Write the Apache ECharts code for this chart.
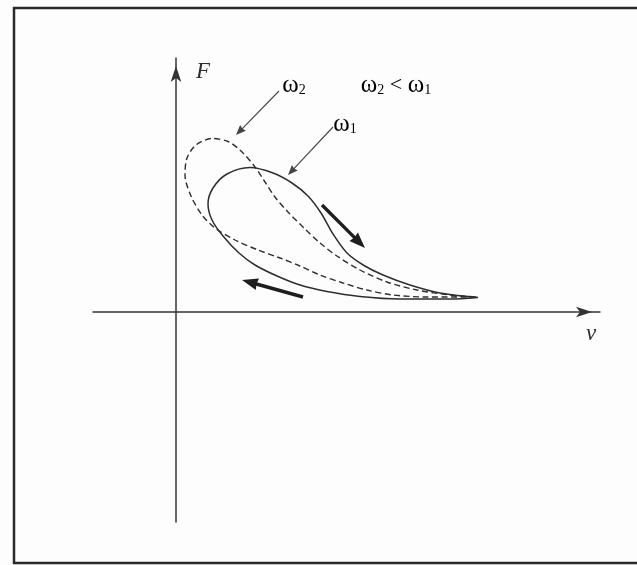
<!DOCTYPE html>
<html>
<head>
<meta charset="utf-8">
<script src="https://cdn.jsdelivr.net/npm/echarts@6/dist/echarts.min.js"></script>
<style>
  html, body { margin: 0; padding: 0; background: #fdfdfd; }
  #chart { width: 637px; height: 565px; }
</style>
</head>
<body>
<div id="chart"></div>
<script>
// Friction force F versus sliding velocity v: hysteresis loops at two frequencies.
// Each loop runs from the tip, back along the lower branch, round the left
// side, over the peak and down the upper branch to the tip again.

// ω1 loop (solid)
const loopW1 = [
  [3.02, 0.145], [2.74, 0.13], [2.24, 0.13], [1.84, 0.155], [1.51, 0.205],
  [1.24, 0.27], [1.01, 0.36], [0.79, 0.47], [0.63, 0.59], [0.47, 0.76],
  [0.36, 0.92], [0.32, 1.08], [0.37, 1.24], [0.51, 1.38], [0.74, 1.445],
  [0.97, 1.39], [1.16, 1.29], [1.32, 1.16], [1.45, 0.99],
  [1.57, 0.78], [1.71, 0.59], [1.88, 0.465], [2.07, 0.37], [2.34, 0.27],
  [2.64, 0.19], [3.02, 0.145]
];

// ω2 loop (dashed), ω2 < ω1
const loopW2 = [
  [3.00, 0.15], [2.51, 0.15], [2.17, 0.17], [1.91, 0.22], [1.67, 0.29],
  [1.44, 0.37], [1.24, 0.46], [1.04, 0.54], [0.82, 0.62], [0.59, 0.72],
  [0.39, 0.84], [0.26, 0.97], [0.15, 1.16], [0.09, 1.37], [0.11, 1.54],
  [0.20, 1.67], [0.36, 1.735], [0.53, 1.70], [0.67, 1.59], [0.79, 1.45],
  [0.89, 1.30], [0.99, 1.15], [1.12, 1.00], [1.28, 0.84], [1.44, 0.69],
  [1.61, 0.56], [1.84, 0.42], [2.11, 0.30], [2.41, 0.22], [2.74, 0.17],
  [3.00, 0.15]
];

// Direction-of-travel arrows: [x0, y0, x1, y1]
const travelArrows = [
  [1.46, 1.07, 1.89, 0.64],
  [1.27, 0.15, 0.66, 0.32]
];

// Pointers from the labels to their loops: [x0, y0, x1, y1]
const labelPointers = [
  [1.03, 2.21, 0.60, 1.77],
  [1.57, 1.85, 1.12, 1.37]
];

// Axis extents
const vRange = [-0.83, 4.24];
const fRange = [-2.10, 2.54];

const ink = '#2e2e2e';
const serif = '"Liberation Serif", "Times New Roman", "DejaVu Serif", serif';

function arrowSeries(rows, s) {
  return {
    type: 'custom',
    coordinateSystem: 'cartesian2d',
    silent: true,
    data: rows,
    encode: { x: [0, 2], y: [1, 3] },
    renderItem: function (params, api) {
      const p0 = api.coord([api.value(0), api.value(1)]);
      const p1 = api.coord([api.value(2), api.value(3)]);
      const dx = p1[0] - p0[0], dy = p1[1] - p0[1];
      const L = Math.hypot(dx, dy);
      const ux = dx / L, uy = dy / L, nx = -uy, ny = ux;
      const bx = p1[0] - ux * s.head, by = p1[1] - uy * s.head;
      return {
        type: 'group',
        children: [
          {
            type: 'line',
            shape: { x1: p0[0], y1: p0[1], x2: bx + ux * 2, y2: by + uy * 2 },
            style: { stroke: s.color, lineWidth: s.width, lineCap: 'butt' }
          },
          {
            type: 'polygon',
            shape: {
              points: [
                [p1[0], p1[1]],
                [bx + nx * s.half, by + ny * s.half],
                [bx + ux * s.notch, by + uy * s.notch],
                [bx - nx * s.half, by - ny * s.half]
              ]
            },
            style: { fill: s.color }
          }
        ]
      };
    }
  };
}

const chart = echarts.init(document.getElementById('chart'), null, { renderer: 'canvas' });

const axisCommon = {
  type: 'value',
  axisLine: {
    show: true,
    onZero: true,
    symbol: ['none', 'arrow'],
    symbolSize: [8, 16],
    symbolOffset: [0, -8],
    lineStyle: { color: '#333', width: 1.5 }
  },
  axisTick: { show: false },
  axisLabel: { show: false },
  splitLine: { show: false }
};

const sub = function (main, idx) {
  return '{w|' + main + '}{s|' + idx + '}';
};
const richLbl = {
  w: { fontFamily: serif, fontSize: 25, lineHeight: 24, color: ink },
  s: { fontFamily: serif, fontSize: 14, lineHeight: 14, color: ink, verticalAlign: 'bottom' },
  t: { fontFamily: serif, fontSize: 22, lineHeight: 24, color: ink }
};

chart.setOption({
  animation: false,
  backgroundColor: '#fdfdfd',
  grid: { left: 93, right: 37, top: 58, bottom: 43 },
  xAxis: Object.assign({}, axisCommon, { min: vRange[0], max: vRange[1] }),
  yAxis: Object.assign({}, axisCommon, { min: fRange[0], max: fRange[1] }),
  series: [
    {
      name: 'ω1',
      type: 'line',
      data: loopW1,
      smooth: 0.3,
      showSymbol: false,
      silent: true,
      lineStyle: { color: ink, width: 1.5 }
    },
    {
      name: 'ω2',
      type: 'line',
      data: loopW2,
      smooth: 0.3,
      showSymbol: false,
      silent: true,
      lineStyle: { color: ink, width: 1.4, type: [6, 3.5] }
    },
    arrowSeries(travelArrows, { color: '#1e1e1e', width: 3.4, head: 16, half: 6, notch: 1 }),
    arrowSeries(labelPointers, { color: '#444', width: 1.1, head: 10, half: 4, notch: 1 })
  ],
  graphic: [
    {
      type: 'rect',
      shape: { x: 14, y: 8, width: 640, height: 555 },
      style: { fill: 'none', stroke: '#2a2a2a', lineWidth: 2.5 },
      silent: true
    },
    {
      type: 'text', x: 203, y: 72,
      style: { text: 'F', font: 'italic 23px ' + serif, fill: ink, align: 'center', verticalAlign: 'middle' }
    },
    {
      type: 'text', x: 591, y: 334,
      style: { text: 'v', font: 'italic 23px ' + serif, fill: ink, align: 'center', verticalAlign: 'middle' }
    },
    {
      type: 'text', x: 294, y: 85,
      style: { text: sub('ω', '2'), rich: richLbl, align: 'center', verticalAlign: 'middle' }
    },
    {
      type: 'text', x: 345, y: 124,
      style: { text: sub('ω', '1'), rich: richLbl, align: 'center', verticalAlign: 'middle' }
    },
    {
      type: 'text', x: 396, y: 85,
      style: { text: sub('ω', '2') + '{t| < }' + sub('ω', '1'), rich: richLbl, align: 'center', verticalAlign: 'middle' }
    }
  ]
});
</script>
</body>
</html>
